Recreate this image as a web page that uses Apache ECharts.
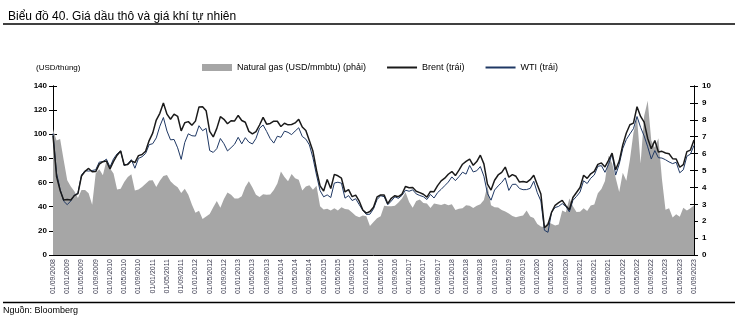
<!DOCTYPE html>
<html>
<head>
<meta charset="utf-8">
<script src="https://cdn.jsdelivr.net/npm/echarts@6/dist/echarts.min.js"></script>
<style>
html,body{margin:0;padding:0;background:#fff;}
#chart{width:738px;height:323px;}
</style>
</head>
<body>
<div id="chart"></div>
<script>
// Monthly (end of month) series, 09/2008 .. 09/2023
var startYear = 2008, startMonth = 9, monthCount = 181;
var tickLabelEvery = 4;

var brent = [
  99.0, 65.0, 53.5, 45.6,
  45.9, 45.6, 49.2, 50.8, 65.4, 69.3, 71.7, 69.0, 69.1, 75.3, 77.3, 77.9,
  71.2, 77.6, 82.7, 86.2, 74.6, 75.0, 78.0, 76.6, 82.3, 83.2, 85.9, 94.8,
  101.0, 111.8, 117.4, 125.9, 116.7, 112.5, 116.7, 114.9, 102.8, 109.6, 110.5, 107.4,
  110.9, 122.7, 122.9, 119.5, 102.4, 97.8, 104.9, 114.6, 112.4, 108.7, 111.2, 111.1,
  115.6, 111.4, 110.0, 102.4, 100.4, 102.2, 107.7, 114.0, 108.4, 109.0, 110.9, 110.8,
  106.4, 109.1, 107.8, 108.1, 109.4, 112.4, 106.0, 103.2, 94.7, 85.9, 70.2, 57.3,
  53.0, 62.6, 55.1, 66.8, 65.6, 63.6, 52.2, 54.2, 48.4, 49.6, 44.6, 37.3,
  34.7, 36.0, 39.6, 48.1, 49.7, 49.7, 42.5, 47.0, 49.1, 48.3, 50.5, 56.8,
  55.7, 56.0, 52.8, 51.7, 50.3, 47.9, 52.7, 52.4, 57.5, 61.4, 63.6, 66.9,
  69.1, 65.8, 70.3, 75.2, 77.6, 79.4, 74.3, 77.4, 82.7, 75.5, 58.7, 53.8,
  61.9, 66.3, 68.4, 72.8, 64.5, 66.6, 65.2, 60.4, 60.8, 60.2, 62.4, 66.0,
  58.2, 50.5, 22.7, 25.3, 35.3, 41.2, 43.3, 45.3, 40.9, 37.5, 47.6, 51.8,
  55.9, 66.1, 63.5, 67.3, 69.3, 75.1, 76.3, 73.0, 78.5, 84.4, 70.6, 77.8,
  91.2, 101.0, 107.9, 109.3, 122.8, 114.8, 110.0, 96.5, 88.0, 94.8, 85.4, 85.9,
  84.5, 83.9, 79.8, 79.5, 72.7, 74.9, 85.6, 86.9, 95.3
];

var wti = [
  100.6, 67.8, 54.4, 44.6,
  41.7, 44.8, 49.7, 51.1, 66.3, 69.9, 69.5, 70.0, 70.6, 77.0, 77.3, 79.4,
  72.9, 79.7, 83.8, 86.2, 74.0, 75.6, 79.0, 71.9, 80.0, 81.4, 84.1, 91.4,
  92.2, 97.0, 106.7, 113.9, 102.7, 95.4, 95.7, 88.8, 79.2, 93.2, 100.4, 98.8,
  98.5, 107.1, 103.0, 104.9, 86.5, 85.0, 88.1, 96.5, 92.2, 86.2, 88.9, 91.8,
  97.5, 92.1, 97.2, 93.5, 92.0, 96.6, 105.0, 107.7, 102.3, 96.4, 92.7, 98.4,
  97.5, 102.6, 101.6, 99.7, 102.7, 105.4, 98.2, 96.0, 91.2, 80.5, 66.2, 53.3,
  48.2, 49.8, 47.6, 59.6, 60.3, 59.5, 47.1, 49.2, 45.1, 46.6, 41.7, 37.0,
  33.6, 33.8, 38.3, 45.9, 49.1, 48.3, 41.6, 44.7, 48.2, 46.9, 49.4, 53.7,
  52.8, 54.0, 50.6, 49.3, 48.3, 46.0, 50.2, 47.2, 51.7, 54.4, 57.4, 60.4,
  64.7, 61.6, 64.9, 68.6, 67.0, 74.2, 68.8, 69.8, 73.3, 65.3, 50.9, 45.4,
  53.8, 57.2, 60.1, 63.9, 53.5, 58.5, 58.6, 55.1, 54.1, 54.2, 55.2, 61.1,
  51.6, 44.8, 20.5, 18.8, 35.5, 39.3, 40.3, 42.6, 40.2, 35.8, 45.3, 48.5,
  52.2, 61.5, 59.2, 63.6, 66.3, 73.5, 74.0, 68.5, 75.0, 83.6, 66.2, 75.2,
  88.2, 95.7, 100.3, 104.7, 114.7, 105.8, 98.6, 89.6, 79.5, 86.5, 80.6, 80.3,
  78.9, 77.1, 75.7, 76.8, 68.1, 70.6, 81.8, 83.6, 90.8
];

var gas = [
  7.44, 6.78, 6.87, 5.62,
  4.42, 4.06, 3.77, 3.37, 3.84, 3.84, 3.66, 2.98, 4.84, 5.08, 4.72, 5.57,
  5.13, 4.82, 3.87, 3.92, 4.32, 4.62, 4.78, 3.81, 3.87, 4.03, 4.21, 4.41,
  4.42, 4.03, 4.39, 4.67, 4.73, 4.37, 4.16, 4.01, 3.67, 3.92, 3.56, 2.99,
  2.50, 2.62, 2.13, 2.28, 2.42, 2.82, 3.20, 2.79, 3.32, 3.70, 3.56, 3.35,
  3.35, 3.47, 4.02, 4.36, 3.99, 3.57, 3.43, 3.59, 3.56, 3.58, 3.84, 4.23,
  4.94, 4.61, 4.37, 4.80, 4.54, 4.46, 3.81, 4.06, 4.12, 3.86, 4.10, 2.89,
  2.69, 2.73, 2.64, 2.76, 2.64, 2.83, 2.72, 2.69, 2.52, 2.32, 2.24, 2.34,
  2.30, 1.71, 1.96, 2.18, 2.29, 2.92, 2.88, 2.88, 2.91, 3.11, 3.35, 3.72,
  3.14, 2.80, 3.19, 3.28, 3.07, 3.04, 2.78, 3.04, 3.01, 2.96, 3.03, 2.95,
  3.00, 2.67, 2.73, 2.76, 2.95, 2.92, 2.78, 2.91, 3.01, 3.26, 4.10, 2.94,
  2.82, 2.81, 2.66, 2.57, 2.45, 2.31, 2.23, 2.29, 2.33, 2.64, 2.28, 2.19,
  1.84, 1.68, 1.64, 1.95, 1.85, 1.75, 1.80, 2.63, 2.53, 3.35, 2.88, 2.54,
  2.56, 2.77, 2.61, 2.93, 2.99, 3.65, 3.91, 4.38, 5.87, 5.43, 4.57, 3.73,
  4.87, 4.40, 5.64, 7.24, 8.14, 5.42, 8.23, 9.13, 6.77, 6.36, 6.91, 4.48,
  2.68, 2.77, 2.22, 2.41, 2.27, 2.80, 2.63, 2.77, 2.93
];

var leftTicks = {min: 0, max: 140, interval: 20};
var rightTicks = {min: 0, max: 10, interval: 1};

var seriesNames = ['Natural gas (USD/mmbtu) (phải)', 'Brent (trái)', 'WTI (trái)'];

// categories (dates 01/MM/YYYY)
var categories = [];
for (var k = 0; k < monthCount; k++) {
  var m = (startMonth - 1 + k) % 12 + 1;
  var y = startYear + Math.floor((startMonth - 1 + k) / 12);
  categories.push('01/' + (m < 10 ? '0' + m : m) + '/' + y);
}

var FONT = 'Liberation Sans, Arial, sans-serif';
var chart = echarts.init(document.getElementById('chart'), null, {renderer: 'canvas'});

function yAx(pos, t, inside, showLabel, margin) {
  return {
    type: 'value', position: pos, min: t.min, max: t.max, interval: t.interval,
    axisLine: {show: true, lineStyle: {color: '#000', width: 1}},
    axisTick: {show: true, inside: inside, length: 4, lineStyle: {color: '#000', width: 1}},
    axisLabel: {show: showLabel, fontSize: 8, fontWeight: 'bold', color: '#000', fontFamily: FONT, margin: margin},
    splitLine: {show: false}
  };
}

chart.setOption({
  animation: false,
  backgroundColor: '#fff',
  title: {
    text: 'Biểu đồ 40. Giá dầu thô và giá khí tự nhiên',
    left: 3, top: 6,
    textStyle: {fontSize: 12, fontWeight: 'normal', color: '#000', fontFamily: FONT}
  },
  legend: {
    left: 197, top: 58,
    itemWidth: 30, itemHeight: 7, itemGap: 20,
    textStyle: {fontSize: 9, color: '#000', fontFamily: FONT},
    data: [
      {name: seriesNames[0], icon: 'rect', itemStyle: {color: '#a6a6a6'}},
      {name: seriesNames[1], itemStyle: {opacity: 0}},
      {name: seriesNames[2], itemStyle: {opacity: 0}}
    ]
  },
  grid: {left: 53, right: 44, top: 86, bottom: 68, containLabel: false},
  xAxis: {
    type: 'category', data: categories, boundaryGap: false,
    axisLine: {show: true, lineStyle: {color: '#000', width: 1}},
    axisTick: {show: true, inside: true, length: 3, interval: tickLabelEvery - 1, lineStyle: {color: '#000'}},
    axisLabel: {interval: tickLabelEvery - 1, rotate: 90, fontSize: 7, color: '#3c3c50', fontFamily: FONT, margin: 4},
    splitLine: {show: false}
  },
  yAxis: [
    yAx('left', leftTicks, false, true, 6),
    yAx('right', rightTicks, false, true, 8),
    yAx('left', leftTicks, true, false, 6),
    yAx('right', rightTicks, true, false, 8)
  ],
  graphic: [
    {type: 'line', shape: {x1: 3, y1: 24, x2: 735, y2: 24}, style: {stroke: '#000', lineWidth: 1.5}, silent: true},
    {type: 'line', shape: {x1: 3, y1: 302.5, x2: 735, y2: 302.5}, style: {stroke: '#000', lineWidth: 1.5}, silent: true},
    {type: 'text', left: 36, top: 64, style: {text: '(USD/thùng)', fontSize: 8, fill: '#000', fontFamily: FONT}, silent: true},
    {type: 'text', left: 3, top: 306, style: {text: 'Nguồn: Bloomberg', fontSize: 9, fill: '#000', fontFamily: FONT}, silent: true}
  ],
  series: [
    {
      name: seriesNames[0], type: 'line', yAxisIndex: 1, data: gas,
      symbol: 'none', showSymbol: false,
      itemStyle: {color: '#a6a6a6'},
      lineStyle: {width: 0, color: '#a6a6a6'},
      areaStyle: {color: '#a6a6a6', opacity: 1},
      z: 1
    },
    {
      name: seriesNames[2], type: 'line', yAxisIndex: 0, data: wti,
      symbol: 'none', showSymbol: false,
      itemStyle: {color: '#1f3864'},
      lineStyle: {width: 1, color: '#1f3864'},
      z: 3
    },
    {
      name: seriesNames[1], type: 'line', yAxisIndex: 0, data: brent,
      symbol: 'none', showSymbol: false,
      itemStyle: {color: '#1a1a1a'},
      lineStyle: {width: 1.5, color: '#1a1a1a'},
      z: 4
    }
  ]
});
</script>
</body>
</html>
